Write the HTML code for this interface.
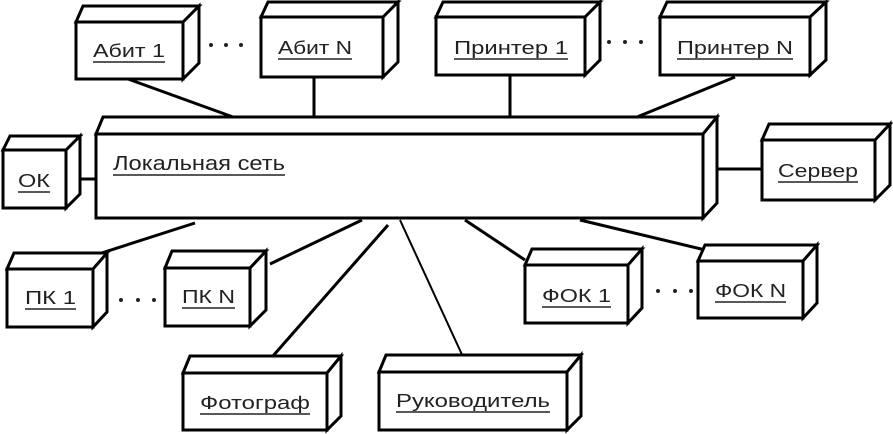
<!DOCTYPE html>
<html><head><meta charset="utf-8"><style>
html,body{margin:0;padding:0;background:#fff;}
svg{display:block;}
text{font-family:"Liberation Sans","DejaVu Sans",sans-serif;fill:#222;}
</style></head><body>
<svg width="893" height="434" viewBox="0 0 893 434" xmlns="http://www.w3.org/2000/svg">
<g stroke="#000" stroke-width="3" fill="#fff" stroke-linejoin="miter">
<line x1="128" y1="79" x2="233" y2="117"/>
<line x1="314" y1="77" x2="314" y2="117"/>
<line x1="510" y1="75" x2="510" y2="117"/>
<line x1="735" y1="77" x2="637" y2="117"/>
<line x1="67" y1="179" x2="96" y2="179"/>
<line x1="717" y1="169" x2="762" y2="169"/>
<line x1="195" y1="223" x2="55" y2="268"/>
<line x1="362" y1="220" x2="270" y2="264"/>
<line x1="388" y1="225" x2="258" y2="373"/>
<line x1="400" y1="220" x2="470" y2="372" stroke-width="2"/>
<line x1="465" y1="220" x2="525" y2="260"/>
<line x1="580" y1="220" x2="743" y2="259"/>
</g>
<g stroke="#000" stroke-width="3" fill="#fff" stroke-linejoin="miter">
<path d="M76,22 L83,6 L199,6 L183,22 Z M183,22 L199,6 L199,63 L183,79 Z"/><rect x="76" y="22" width="107" height="57"/>
<path d="M261,17 L268,2 L398,2 L383,17 Z M383,17 L398,2 L398,62 L383,77 Z"/><rect x="261" y="17" width="122" height="60"/>
<path d="M436,17 L443,2 L600,2 L585,17 Z M585,17 L600,2 L600,60 L585,75 Z"/><rect x="436" y="17" width="149" height="58"/>
<path d="M660,17 L667,2 L826,2 L810,17 Z M810,17 L826,2 L826,60 L810,75 Z"/><rect x="660" y="17" width="150" height="58"/>
<path d="M96,134 L103,117 L717,117 L703,134 Z M703,134 L717,117 L717,203 L703,218 Z"/><rect x="96" y="134" width="607" height="84"/>
<path d="M3,150 L10,136 L80,136 L66,150 Z M66,150 L80,136 L80,194 L66,208 Z"/><rect x="3" y="150" width="63" height="58"/>
<path d="M762,140 L769,124 L890,124 L875,140 Z M875,140 L890,124 L890,185 L875,200 Z"/><rect x="762" y="140" width="113" height="60"/>
<path d="M7,269 L14,253 L107,253 L93,269 Z M93,269 L107,253 L107,312 L93,327 Z"/><rect x="7" y="269" width="86" height="58"/>
<path d="M165,268 L172,251 L266,251 L250,268 Z M250,268 L266,251 L266,310 L250,326 Z"/><rect x="165" y="268" width="85" height="58"/>
<path d="M183,373 L190,356 L341,356 L327,373 Z M327,373 L341,356 L341,416 L327,430 Z"/><rect x="183" y="373" width="144" height="57"/>
<path d="M379,372 L386,355 L581,355 L567,372 Z M567,372 L581,355 L581,416 L567,430 Z"/><rect x="379" y="372" width="188" height="58"/>
<path d="M525,265 L532,249 L642,249 L628,265 Z M628,265 L642,249 L642,308 L628,323 Z"/><rect x="525" y="265" width="103" height="58"/>
<path d="M698,261 L705,245 L817,245 L803,261 Z M803,261 L817,245 L817,303 L803,318 Z"/><rect x="698" y="261" width="105" height="57"/>
</g>
<g font-size="18">
<text x="93" y="57" textLength="72" lengthAdjust="spacingAndGlyphs">Абит 1</text>
<text x="278" y="54" textLength="74" lengthAdjust="spacingAndGlyphs">Абит N</text>
<text x="454" y="54" textLength="114" lengthAdjust="spacingAndGlyphs">Принтер 1</text>
<text x="677" y="54" textLength="116" lengthAdjust="spacingAndGlyphs">Принтер N</text>
<text x="113" y="170" font-size="20" textLength="172" lengthAdjust="spacingAndGlyphs">Локальная сеть</text>
<text x="18" y="187" textLength="32" lengthAdjust="spacingAndGlyphs">ОК</text>
<text x="778" y="177" textLength="80" lengthAdjust="spacingAndGlyphs">Сервер</text>
<text x="25" y="304" textLength="51" lengthAdjust="spacingAndGlyphs">ПК 1</text>
<text x="182" y="303" textLength="53" lengthAdjust="spacingAndGlyphs">ПК N</text>
<text x="200" y="409" textLength="110" lengthAdjust="spacingAndGlyphs">Фотограф</text>
<text x="396" y="407" textLength="154" lengthAdjust="spacingAndGlyphs">Руководитель</text>
<text x="542" y="302" textLength="69" lengthAdjust="spacingAndGlyphs">ФОК 1</text>
<text x="715" y="297" textLength="71" lengthAdjust="spacingAndGlyphs">ФОК N</text>
</g>
<g stroke="#222" stroke-width="1.6">
<line x1="93" y1="62" x2="165" y2="62"/>
<line x1="278" y1="59" x2="352" y2="59"/>
<line x1="454" y1="59" x2="568" y2="59"/>
<line x1="677" y1="59" x2="793" y2="59"/>
<line x1="113" y1="175" x2="285" y2="175"/>
<line x1="18" y1="192" x2="50" y2="192"/>
<line x1="778" y1="182" x2="858" y2="182"/>
<line x1="25" y1="309" x2="76" y2="309"/>
<line x1="182" y1="308" x2="235" y2="308"/>
<line x1="200" y1="414" x2="310" y2="414"/>
<line x1="396" y1="412" x2="550" y2="412"/>
<line x1="542" y1="307" x2="611" y2="307"/>
<line x1="715" y1="302" x2="786" y2="302"/>
</g>
<g fill="#222">
<circle cx="211" cy="45" r="2"/><circle cx="226" cy="45" r="2"/><circle cx="241" cy="45" r="2"/>
<circle cx="609" cy="42" r="2"/><circle cx="625" cy="42" r="2"/><circle cx="641" cy="42" r="2"/>
<circle cx="121" cy="300" r="2"/><circle cx="138" cy="300" r="2"/><circle cx="154" cy="300" r="2"/>
<circle cx="658" cy="291" r="2"/><circle cx="675" cy="291" r="2"/><circle cx="691" cy="291" r="2"/>
</g>
</svg>
</body></html>
